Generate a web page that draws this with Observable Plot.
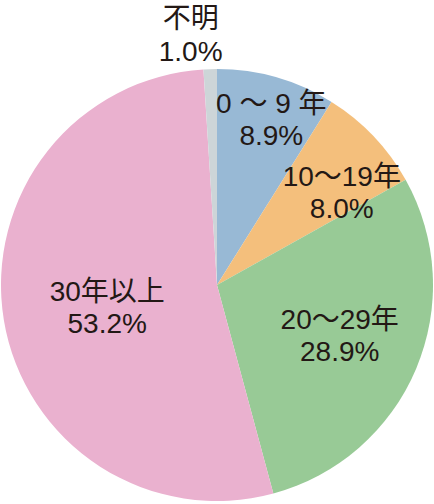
<!DOCTYPE html>
<html><head><meta charset="utf-8">
<script src="https://cdn.jsdelivr.net/npm/d3@7"></script>
<script src="https://cdn.jsdelivr.net/npm/@observablehq/plot@0.6"></script>
<style>body{margin:0;background:#fff}</style>
</head><body><div id="chart"></div>
<script>
const categories = ["0 ～ 9 年", "10～19年", "20～29年", "30年以上", "不明"];
const values = [8.9, 8.0, 28.9, 53.2, 1.0];
const colors = ["#98b9d5", "#f4bf7c", "#98ca96", "#eab1cf", "#cdd5d8"];
const labelRadius = [0.81, 0.72, 0.61, 0.52, 1.17];
const labelAngleShift = [1.9, 6.6, -0.9, -1.6, -4.3];

const data = categories.map((c, i) => ({category: c, value: values[i], color: colors[i]}));
const arcs = d3.pie().sort(null).value(d => d.value)(data);
const labels = arcs.map((a, i) => {
  const ang = (a.startAngle + a.endAngle) / 2 + labelAngleShift[i] * Math.PI / 180;
  return {
    x: labelRadius[i] * Math.sin(ang),
    y: labelRadius[i] * Math.cos(ang),
    text: a.data.category + "\n" + a.data.value.toFixed(1) + "%"
  };
});

const pieMark = (index, scales) => {
  const cx = scales.x(0), cy = scales.y(0);
  const r = scales.x(1) - scales.x(0);
  const arcGen = d3.arc().innerRadius(0).outerRadius(r);
  const g = d3.create("svg:g").attr("transform", `translate(${cx},${cy})`);
  g.selectAll("path").data(arcs).join("path")
    .attr("d", arcGen)
    .attr("fill", d => d.data.color)
    .attr("stroke", "none");
  return g.node();
};

const chart = Plot.plot({
  width: 434,
  height: 504,
  margin: 0,
  x: {domain: [-1, 1], range: [1, 433], axis: null},
  y: {domain: [-1, 1], range: [501, 69], axis: null},
  style: {fontFamily: "'Liberation Sans', 'Noto Sans CJK JP', sans-serif", background: "#fff"},
  marks: [
    pieMark,
    Plot.text(labels, {x: "x", y: "y", text: "text", fontSize: 28, lineHeight: 1.15, fill: "#231815"})
  ]
});
document.getElementById("chart").append(chart);
</script>
</body></html>
